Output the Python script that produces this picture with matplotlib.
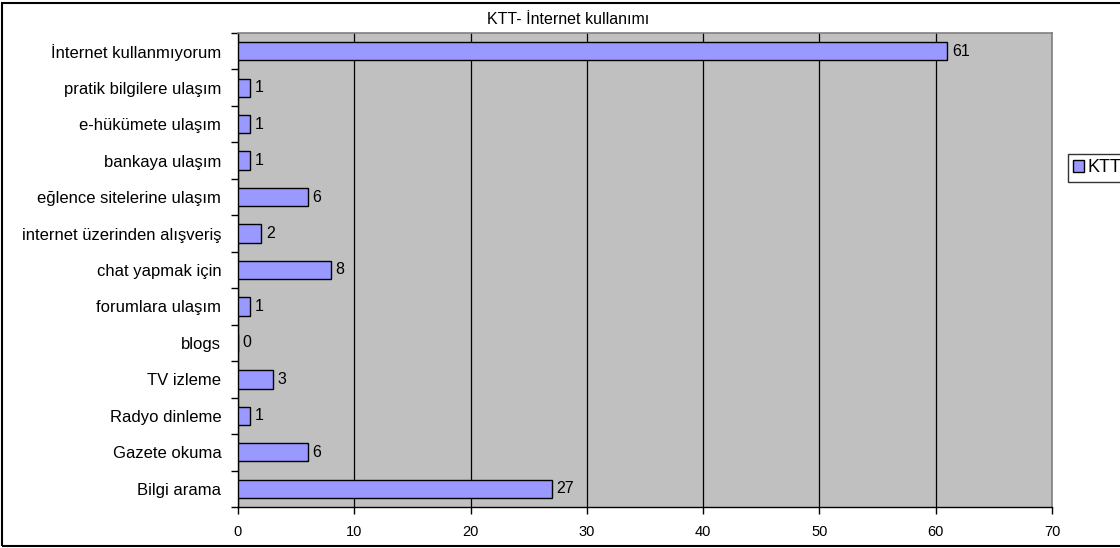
import matplotlib
matplotlib.use("Agg")
import matplotlib.pyplot as plt
from matplotlib.patches import Rectangle, Patch
import numpy as np

# ── Data (top to bottom as shown) ──────────────────────────────
categories = [
    "İnternet kullanmıyorum",
    "pratik bilgilere ulaşım",
    "e-hükümete ulaşım",
    "bankaya ulaşım",
    "eğlence sitelerine ulaşım",
    "internet üzerinden alışveriş",
    "chat yapmak için",
    "forumlara ulaşım",
    "blogs",
    "TV izleme",
    "Radyo dinleme",
    "Gazete okuma",
    "Bilgi arama",
]
values = [61, 1, 1, 1, 6, 2, 8, 1, 0, 3, 1, 6, 27]
x_ticks = [0, 10, 20, 30, 40, 50, 60, 70]
series_name = "KTT"
title = "KTT- İnternet kullanımı"

BAR_COLOR = "#9999FF"
PLOT_BG = "#C0C0C0"

plt.rcParams["font.family"] = ["Liberation Sans", "DejaVu Sans"]

fig = plt.figure(figsize=(11.2, 5.48), dpi=100)
ax = fig.add_axes([238 / 1120, 1 - 507 / 548, (1052 - 238) / 1120, (507 - 33) / 548])
ax.set_facecolor(PLOT_BG)

n = len(categories)
y = np.arange(n)[::-1]  # first category at the top
ax.barh(y, values, height=0.5, color=BAR_COLOR, edgecolor="black", linewidth=1.0, zorder=3)

for yi, v in zip(y, values):
    ax.text(v + 0.4, yi, str(v), va="center", ha="left", fontsize=11.5, zorder=4)

ax.set_xlim(0, 70)
ax.set_ylim(-0.5, n - 0.5)
ax.set_xticks(x_ticks)
ax.set_xticklabels([str(t) for t in x_ticks], fontsize=10.5)
ax.tick_params(axis="x", direction="out", length=5, width=1, pad=8)

ax.set_yticks(y)
ax.set_yticklabels(categories, fontsize=12)
ax.tick_params(axis="y", which="major", length=0, pad=12)
ax.set_yticks(np.arange(n + 1) - 0.5, minor=True)
ax.tick_params(axis="y", which="minor", direction="out", length=5, width=1)

ax.grid(axis="x", color="black", linewidth=0.9, zorder=1)
ax.set_axisbelow(True)

for side in ("top", "right"):
    ax.spines[side].set_color("#808080")
    ax.spines[side].set_linewidth(1.2)
for side in ("left", "bottom"):
    ax.spines[side].set_color("black")
    ax.spines[side].set_linewidth(1.0)

fig.text(568 / 1120, 1 - 20 / 548, title, ha="center", va="center", fontsize=11.5)

handle = Patch(facecolor=BAR_COLOR, edgecolor="black", linewidth=1.0)
leg = fig.legend([handle], [series_name], loc="upper left",
                 bbox_to_anchor=(1068 / 1120, 1 - 154 / 548),
                 fontsize=13, frameon=True, fancybox=False,
                 handlelength=0.6, handleheight=0.6, handletextpad=0.2,
                 borderpad=0.3, borderaxespad=0)
leg.get_frame().set_edgecolor("black")
leg.get_frame().set_linewidth(1.0)

# outer chart border (extends past the right edge, as in the source)
fig.patches.append(Rectangle((2 / 1120, 1 - 546 / 548), 1.2, 543 / 548,
                             transform=fig.transFigure, fill=False,
                             edgecolor="black", linewidth=1.5))

fig.savefig("out.png", dpi=100, facecolor="white")
